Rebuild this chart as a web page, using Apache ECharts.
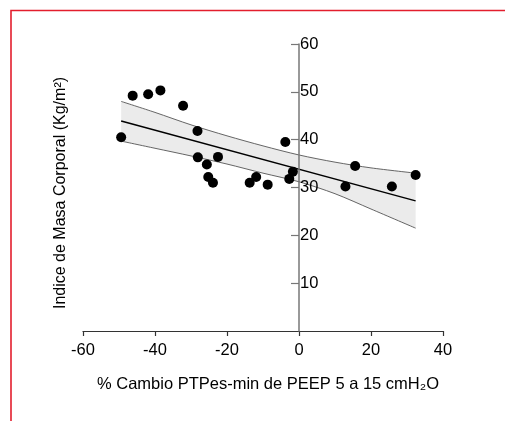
<!DOCTYPE html>
<html>
<head>
<meta charset="utf-8">
<script src="https://cdn.jsdelivr.net/npm/echarts@6/dist/echarts.min.js"></script>
<style>
html,body{margin:0;padding:0;background:#fff;}
#chart{width:505px;height:421px;}
</style>
</head>
<body>
<div id="chart"></div>
<script>
// ---- data ----
const pointX = [-49.4, -46.2, -41.9, -38.5, -32.2, -28.2, -28.1, -25.6, -22.5, -25.2, -23.9, -13.7, -11.9, -8.7, -3.8, -2.7, -1.7, 15.6, 12.9, 25.8, 32.4];
const pointY = [40.5, 49.2, 49.5, 50.3, 47.1, 41.8, 36.3, 34.8, 36.4, 32.2, 31.0, 31.0, 32.2, 30.6, 39.5, 31.8, 33.3, 34.5, 30.2, 30.2, 32.6];

const fitX = [-49.4, 32.4];
const fitY = [43.9, 27.2];

const bandX = [-49.4, -40, -30, -20, -10, 0, 10, 20, 32.4];
const bandUpper = [48.0, 45.7, 43.1, 40.8, 38.7, 36.8, 35.3, 34.1, 33.0];
const bandLower = [39.7, 38.2, 36.6, 34.9, 33.0, 31.2, 28.7, 25.5, 21.5];

const xTicks = { min: -60, max: 40, interval: 20 };
const yTicks = { min: 0, max: 60, interval: 10 };

const xTitle = '% Cambio PTPes-min de PEEP 5 a 15 cmH\u2082O';
const yTitle = 'Indice de Masa Corporal (Kg/m\u00B2)';

// ---- build ----
const FONT = '"Liberation Sans", Arial, "DejaVu Sans", sans-serif';
const GRID = { left: 83, right: 62, top: 44, bottom: 90 };
const W = 505;
const zip = (a, b) => a.map((v, i) => [v, b[i]]);
const bandPoly = zip(bandX, bandUpper).concat(zip(bandX, bandLower).reverse());
// y axis sits at x = 0 of the x scale
const yAxisOffset = -((0 - xTicks.min) / (xTicks.max - xTicks.min)) * (W - GRID.left - GRID.right);

const chart = echarts.init(document.getElementById('chart'), null, { renderer: 'canvas' });
chart.setOption({
  animation: false,
  backgroundColor: '#fff',
  grid: Object.assign({ containLabel: false, outerBoundsMode: 'none' }, GRID),
  xAxis: {
    type: 'value', min: xTicks.min, max: xTicks.max, interval: xTicks.interval,
    axisLine: { onZero: false, lineStyle: { color: '#333', width: 1.2 } },
    axisTick: { show: true, length: 5, lineStyle: { color: '#333', width: 1.2 } },
    axisLabel: { color: '#000', fontSize: 16.5, margin: 11, fontFamily: FONT },
    splitLine: { show: false }
  },
  yAxis: {
    type: 'value', min: yTicks.min, max: yTicks.max, interval: yTicks.interval,
    position: 'left', offset: yAxisOffset, z: 10,
    axisLine: { show: true, onZero: false, lineStyle: { color: '#777', width: 1.5 } },
    axisTick: { show: true, length: 8, lineStyle: { color: '#777', width: 1.2 } },
    axisLabel: { inside: true, margin: 1, showMinLabel: false, color: '#000', fontSize: 16.5, fontFamily: FONT },
    splitLine: { show: false }
  },
  graphic: [
    { type: 'rect', shape: { x: 11, y: 10.5, width: 700, height: 700 }, style: { fill: 'none', stroke: '#e31e2d', lineWidth: 1.6 }, silent: true },
    { type: 'text', x: 61, y: 193, rotation: Math.PI / 2,
      style: { text: yTitle, fontSize: 16, fontFamily: FONT, fill: '#000', align: 'center', verticalAlign: 'middle' } },
    { type: 'text', x: 268, y: 384,
      style: { text: xTitle, fontSize: 16.5, fontFamily: FONT, fill: '#000', align: 'center', verticalAlign: 'middle' } }
  ],
  series: [
    {
      type: 'custom', z: 1, silent: true,
      data: [0],
      renderItem: function (params, api) {
        const pts = bandPoly.map(p => api.coord(p));
        return { type: 'polygon', shape: { points: pts, smooth: 0 }, style: { fill: '#ebebeb', stroke: 'none' } };
      }
    },
    { type: 'line', z: 2, data: zip(bandX, bandUpper), symbol: 'none', smooth: 0.3, lineStyle: { color: '#555', width: 0.9 } },
    { type: 'line', z: 2, data: zip(bandX, bandLower), symbol: 'none', smooth: 0.3, lineStyle: { color: '#555', width: 0.9 } },
    { type: 'line', z: 3, data: zip(fitX, fitY), symbol: 'none', lineStyle: { color: '#000', width: 1.5 } },
    { type: 'scatter', z: 12, data: zip(pointX, pointY), symbol: 'circle', symbolSize: 10, itemStyle: { color: '#000', opacity: 1 } }
  ]
});
</script>
</body>
</html>
